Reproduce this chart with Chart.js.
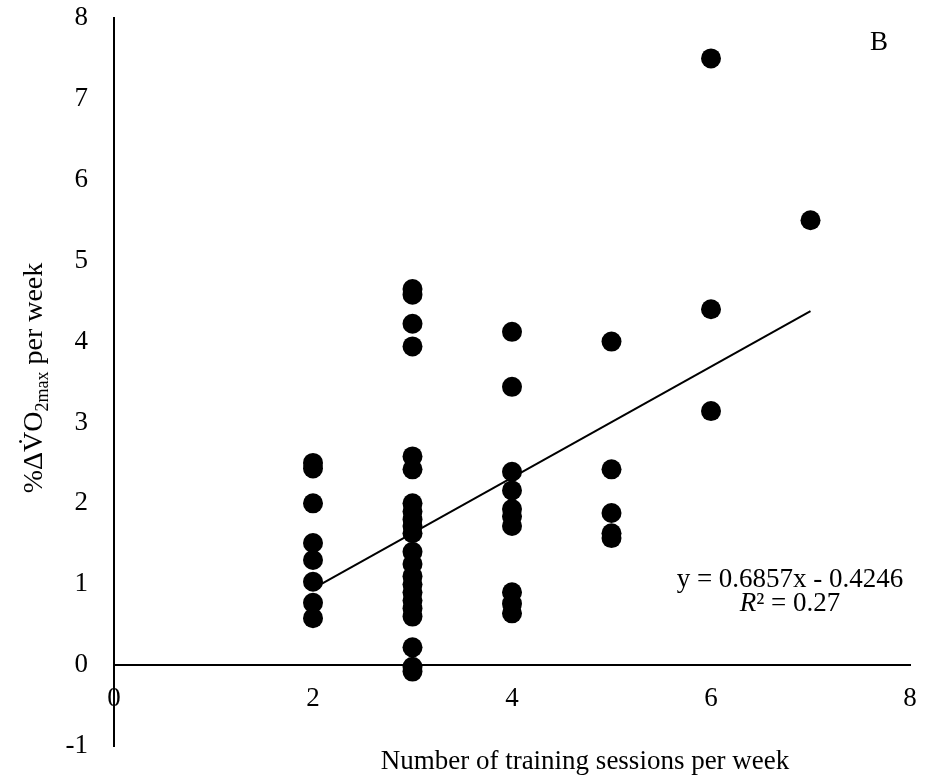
<!DOCTYPE html>
<html lang="en">
<head>
  <meta charset="UTF-8">
  <title>Training sessions vs VO2max change</title>
  <style>
    html, body {
      margin: 0;
      padding: 0;
      background: #ffffff;
      overflow: hidden;
    }
    #chart {
      display: block;
    }
  </style>
</head>
<body>
  <canvas id="chart" width="937" height="778"></canvas>

  <script src="https://cdn.jsdelivr.net/npm/chart.js"></script>
  <script>
    // number of training sessions per week (x groups)
    const sessionGroups = [2, 3, 4, 5, 6, 7];
    // % change in VO2max per week, one list per x group
    const vo2Gains = [
      [2.50, 2.43, 2.00, 1.51, 1.30, 1.03, 0.77, 0.58],
      [4.65, 4.58, 4.22, 3.94, 2.58, 2.42, 2.00, 1.90, 1.80, 1.72, 1.63, 1.40, 1.25, 1.10, 1.00, 0.90, 0.80, 0.70, 0.60, 0.22, -0.02, -0.08],
      [4.12, 3.44, 2.39, 2.16, 1.93, 1.84, 1.72, 0.90, 0.76, 0.64],
      [4.00, 2.42, 1.88, 1.63, 1.57],
      [7.50, 4.40, 3.14],
      [5.50]
    ];
    // linear trendline ends (y = 0.6857x - 0.4246)
    const trendX = [2, 7];
    const trendY = [0.947, 4.375];

    const xTicks = [0, 2, 4, 6, 8];
    const yTicks = [-1, 0, 1, 2, 3, 4, 5, 6, 7, 8];

    const serif = '"Liberation Serif", "Times New Roman", serif';

    const points = [];
    sessionGroups.forEach((s, i) => {
      vo2Gains[i].forEach(v => points.push({ x: s, y: v }));
    });
    const trend = trendX.map((x, i) => ({ x: x, y: trendY[i] }));

    const textPlugin = {
      id: 'texts',
      afterDraw(chart) {
        const ctx = chart.ctx;
        ctx.save();
        ctx.fillStyle = '#000';

        // y axis title with subscript, rotated
        ctx.translate(33, 378);
        ctx.rotate(-Math.PI / 2);
        const parts = [
          { t: '%\u0394V\u0307O', size: 28, dy: 9 },
          { t: '2max', size: 18, dy: 15 },
          { t: ' per week', size: 28, dy: 9 }
        ];
        let total = 0;
        parts.forEach(p => {
          ctx.font = p.size + 'px ' + serif;
          p.w = ctx.measureText(p.t).width;
          total += p.w;
        });
        let px = -total / 2;
        ctx.textBaseline = 'alphabetic';
        ctx.textAlign = 'left';
        parts.forEach(p => {
          ctx.font = p.size + 'px ' + serif;
          ctx.fillText(p.t, px, p.dy);
          px += p.w;
        });
        ctx.setTransform(1, 0, 0, 1, 0, 0);

        // x axis title
        ctx.font = '27px ' + serif;
        ctx.textAlign = 'center';
        ctx.textBaseline = 'middle';
        ctx.fillText('Number of training sessions per week', 585, 762);

        // panel letter
        ctx.fillText('B', 879, 43);

        // trendline equation
        ctx.fillText('y = 0.6857x - 0.4246', 790, 580);
        const rest = '\u00B2 = 0.27';
        ctx.font = 'italic 27px ' + serif;
        const rw = ctx.measureText('R').width;
        ctx.font = '27px ' + serif;
        const restW = ctx.measureText(rest).width;
        const startX = 790 - (rw + restW) / 2;
        ctx.textAlign = 'left';
        ctx.font = 'italic 27px ' + serif;
        ctx.fillText('R', startX, 604);
        ctx.font = '27px ' + serif;
        ctx.fillText(rest, startX + rw, 604);

        ctx.restore();
      }
    };

    new Chart(document.getElementById('chart'), {
      type: 'scatter',
      data: {
        datasets: [
          {
            label: 'Participants',
            data: points,
            backgroundColor: '#000000',
            borderWidth: 0,
            pointRadius: 10,
            pointHoverRadius: 10
          },
          {
            type: 'line',
            label: 'Linear trend',
            data: trend,
            borderColor: '#000000',
            borderWidth: 2,
            pointRadius: 0,
            fill: false
          }
        ]
      },
      options: {
        responsive: false,
        animation: false,
        events: [],
        layout: {
          padding: { top: 18, bottom: 32, left: 0, right: 27 }
        },
        plugins: {
          legend: { display: false },
          tooltip: { enabled: false }
        },
        scales: {
          x: {
            type: 'linear',
            position: { y: 0 },
            min: 0,
            max: 8,
            afterBuildTicks: (s) => { s.ticks = xTicks.map(v => ({ value: v })); },
            afterFit: (s) => { s.paddingLeft = 0; s.paddingRight = 0; },
            grid: { display: false, drawTicks: false },
            border: { display: true, color: '#000000', width: 2 },
            ticks: {
              color: '#000000',
              padding: 18,
              font: { family: serif, size: 27 }
            }
          },
          y: {
            type: 'linear',
            min: -1,
            max: 8,
            afterBuildTicks: (s) => { s.ticks = yTicks.map(v => ({ value: v })); },
            afterFit: (s) => { s.width = 114; s.paddingTop = 0; s.paddingBottom = 0; },
            grid: { display: false, drawTicks: false },
            border: { display: true, color: '#000000', width: 2 },
            ticks: {
              color: '#000000',
              padding: 26,
              font: { family: serif, size: 27 }
            }
          }
        }
      },
      plugins: [textPlugin]
    });
  </script>
</body>
</html>
